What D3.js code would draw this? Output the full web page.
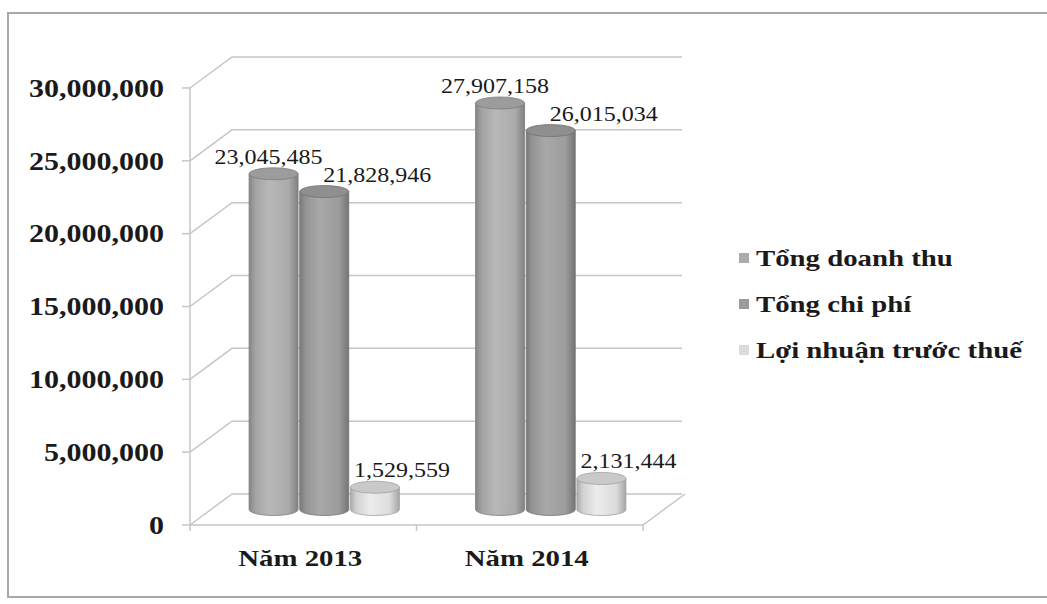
<!DOCTYPE html>
<html>
<head>
<meta charset="utf-8">
<script src="https://cdn.jsdelivr.net/npm/d3@7/dist/d3.min.js"></script>
<style>
  body { margin: 0; background: #fff; }
  text { font-family: "Liberation Serif", "Times New Roman", serif; fill: #1a1a1a; }
</style>
</head>
<body>
<div id="chart"></div>
<script>
const categories = ["Năm 2013", "Năm 2014"];
const seriesNames = ["Tổng doanh thu", "Tổng chi phí", "Lợi nhuận trước thuế"];
const tongDoanhThu = [23045485, 27907158];
const tongChiPhi = [21828946, 26015034];
const loiNhuan = [1529559, 2131444];
const yTicks = [0, 5000000, 10000000, 15000000, 20000000, 25000000, 30000000];

const seriesValues = [tongDoanhThu, tongChiPhi, loiNhuan];
const seriesColors = ["#ababab", "#9c9c9c", "#dcdcdc"];
const labelShift = [-5, 53, 27]; // excel pushed labels sideways per series

const width = 1047, height = 604;
const DX = 42, DY = -31;     // depth offset of back wall
const SX = 1.2;              // horizontal stretch of the original text

const svg = d3.select("#chart").append("svg")
  .attr("width", width)
  .attr("height", height);

// outer frame
svg.append("rect")
  .attr("x", 8).attr("y", 13)
  .attr("width", 1050).attr("height", 584)
  .attr("fill", "none")
  .attr("stroke", "#a8a8a8")
  .attr("stroke-width", 2);

const x = d3.scaleBand().domain(categories).range([190, 643]);
const xs = d3.scaleBand().domain(seriesNames).range([-76, 76]);
const y = d3.scaleLinear().domain([0, 30000000]).range([525, 88]);

const fmt = d3.format(",");

// gridlines: side diagonal + back wall line
const grid = svg.append("g").attr("stroke", "#c6c6c6").attr("stroke-width", 1.5).attr("fill", "none");
yTicks.forEach(t => {
  const yy = y(t);
  grid.append("path")
    .attr("d", `M${x.range()[0]},${yy} L${x.range()[0] + DX},${yy + DY} L${x.range()[1] + DX - 3},${yy + DY}`);
});

// floor
const x0 = x.range()[0], x1 = x.range()[1], y0 = y(0);
svg.append("path")
  .attr("d", `M${x0},${y0} L${x1},${y0} L${x1 + DX},${y0 + DY}`)
  .attr("fill", "none")
  .attr("stroke", "#c6c6c6")
  .attr("stroke-width", 1.5);

// y axis line and ticks
const axisG = svg.append("g").attr("stroke", "#c6c6c6").attr("stroke-width", 1.5);
axisG.append("line").attr("x1", x0).attr("x2", x0).attr("y1", y(30000000)).attr("y2", y0);
yTicks.forEach(t => {
  axisG.append("line").attr("x1", x0 - 8).attr("x2", x0).attr("y1", y(t)).attr("y2", y(t));
});
// category ticks
[x0, x0 + x.step(), x1].forEach(px => {
  axisG.append("line").attr("x1", px).attr("x2", px).attr("y1", y0).attr("y2", y0 + 6);
});

// y tick labels
svg.append("g").selectAll("text")
  .data(yTicks)
  .join("text")
  .attr("transform", d => `translate(164,${y(d)}) scale(${SX},1)`)
  .attr("dy", "0.35em")
  .attr("text-anchor", "end")
  .attr("font-size", 25)
  .attr("font-weight", "bold")
  .text(d => fmt(d));

// category labels
svg.append("g").selectAll("text")
  .data(categories)
  .join("text")
  .attr("transform", d => `translate(${x(d) + x.bandwidth() / 2 - 3},${y0 + 33}) scale(${SX},1)`)
  .attr("dy", "0.35em")
  .attr("text-anchor", "middle")
  .attr("font-size", 24)
  .attr("font-weight", "bold")
  .text(d => d);

// gradients for cylinders
const defs = svg.append("defs");
seriesColors.forEach((c, i) => {
  const g = defs.append("linearGradient").attr("id", "cyl" + i)
    .attr("x1", "0%").attr("x2", "100%").attr("y1", "0%").attr("y2", "0%");
  const base = d3.color(c);
  g.append("stop").attr("offset", "0%").attr("stop-color", base.darker(0.7));
  g.append("stop").attr("offset", "12%").attr("stop-color", base.darker(0.15));
  g.append("stop").attr("offset", "40%").attr("stop-color", base.brighter(0.2));
  g.append("stop").attr("offset", "80%").attr("stop-color", base);
  g.append("stop").attr("offset", "100%").attr("stop-color", base.darker(0.8));
});

// cylinders
const rx = 24.5, ry = 6;
const bars = [];
categories.forEach((cat, ci) => {
  seriesNames.forEach((s, si) => {
    bars.push({ cat, s, si, v: seriesValues[si][ci] });
  });
});

const cylG = svg.append("g");
const labelG = svg.append("g");
bars.forEach(d => {
  const cx = x(d.cat) + x.bandwidth() / 2 + xs(d.s) + xs.bandwidth() / 2 + DX / 2;
  const top = y(d.v) + DY / 2;
  const base = y(0) + DY / 2;
  const g = cylG.append("g");
  g.append("path")
    .attr("d", `M${cx - rx},${top} L${cx - rx},${base} A${rx},${ry} 0 0 0 ${cx + rx},${base} L${cx + rx},${top} Z`)
    .attr("fill", `url(#cyl${d.si})`)
    .attr("stroke", d3.color(seriesColors[d.si]).darker(0.9))
    .attr("stroke-width", 0.8);
  g.append("ellipse")
    .attr("cx", cx).attr("cy", top)
    .attr("rx", rx).attr("ry", ry)
    .attr("fill", d3.color(seriesColors[d.si]).darker(0.25))
    .attr("stroke", d3.color(seriesColors[d.si]).darker(0.9))
    .attr("stroke-width", 0.8);
  labelG.append("text")
    .attr("transform", `translate(${cx + labelShift[d.si]},${top - 17}) scale(${SX},1)`)
    .attr("dy", "0.35em")
    .attr("text-anchor", "middle")
    .attr("font-size", 20)
    .text(fmt(d.v));
});

// legend
const legend = svg.append("g").attr("transform", "translate(739,258)");
const li = legend.selectAll("g")
  .data(seriesNames)
  .join("g")
  .attr("transform", (d, i) => `translate(0,${i * 46})`);
li.append("rect")
  .attr("x", 0).attr("y", -5)
  .attr("width", 10).attr("height", 10)
  .attr("fill", (d, i) => seriesColors[i]);
li.append("text")
  .attr("transform", `translate(17,0) scale(${SX},1)`)
  .attr("dy", "0.35em")
  .attr("font-size", 24)
  .attr("font-weight", "bold")
  .text(d => d);
</script>
</body>
</html>
